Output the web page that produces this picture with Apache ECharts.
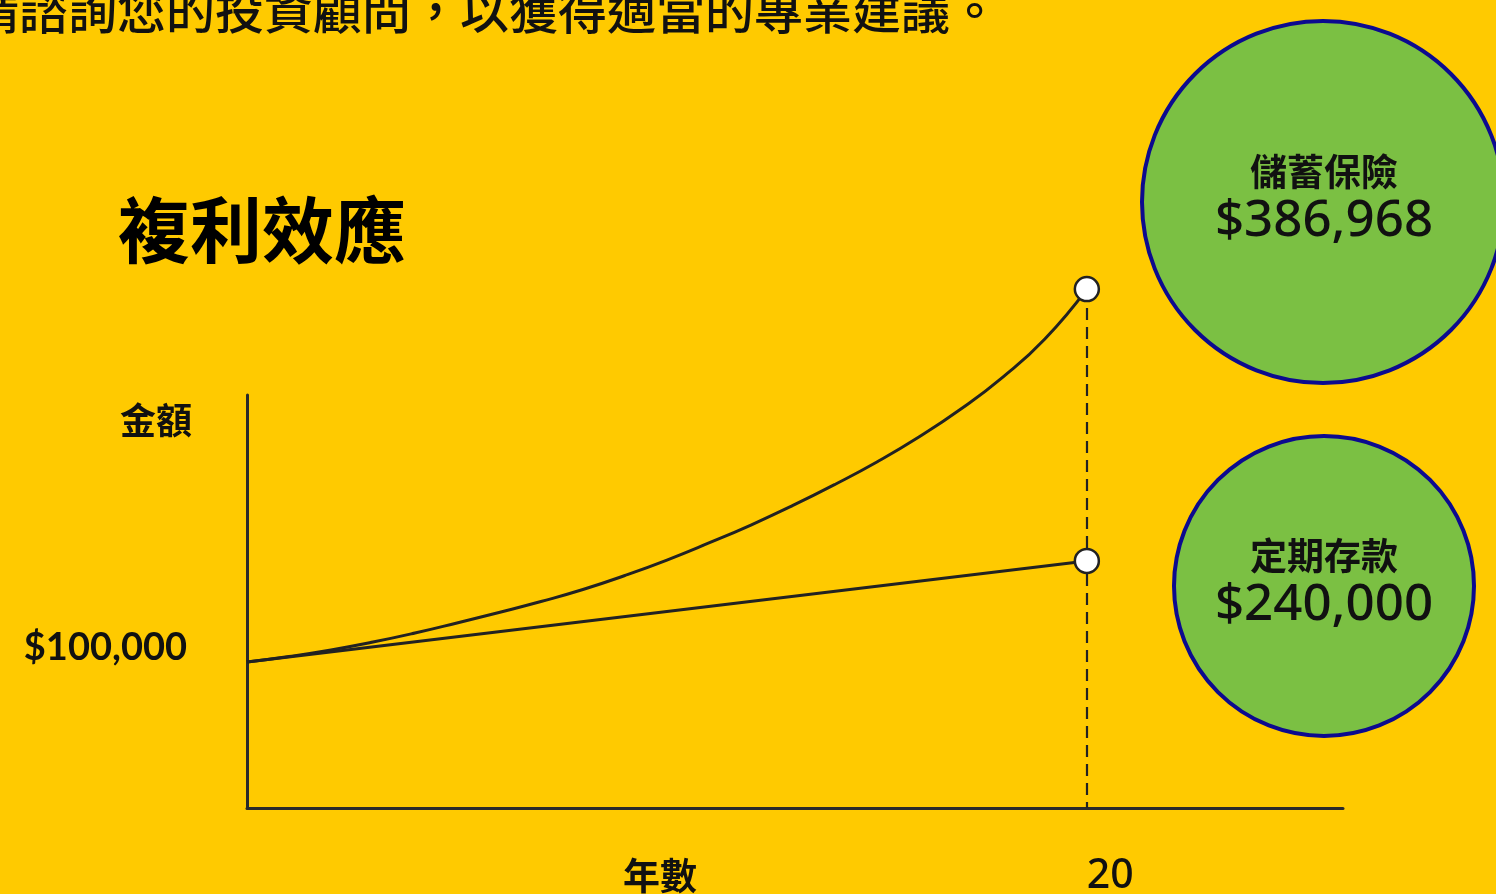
<!DOCTYPE html>
<html>
<head>
<meta charset="utf-8">
<script src="https://cdn.jsdelivr.net/npm/echarts@6/dist/echarts.min.js"></script>
<style>
  html, body { margin: 0; padding: 0; background: #ffca00; overflow: hidden; }
  #chart { width: 1496px; height: 894px; }
</style>
</head>
<body>
<div id="chart"></div>
<script>
// ---- data (schematic heights as drawn, in $ thousands on the drawn scale) ----
const years = [0,1,2,3,4,5,6,7,8,9,10,11,12,13,14,15,16,17,18,19,20];
const insuranceDrawn = [100.0,103.8,108.3,113.7,119.9,126.8,134.0,141.5,149.7,159.3,169.9,181.6,193.9,207.3,221.7,237.1,254.2,273.4,295.3,321.4,355.6];
const depositYears = [0, 20];
const depositDrawn = [100.0, 169.3];
const yTickValue = 100;
const yTickLabel = '$100,000';
const xTickValue = 20;
const xTickLabel = '20';
const seriesNames = ['儲蓄保險', '定期存款'];
const seriesFinalLabels = ['$386,968', '$240,000'];
const titleText = '複利效應';
const topNote = '請諮詢您的投資顧問，以獲得適當的專業建議。';
const yAxisName = '金額';
const xAxisName = '年數';

const chart = echarts.init(document.getElementById('chart'), null, { renderer: 'canvas' });

function withEndSymbol(xs, ys) {
  return xs.map((x, i) => {
    const item = { value: [x, ys[i]] };
    if (i === xs.length - 1) {
      item.symbol = 'circle';
      item.symbolSize = 24;
    }
    return item;
  });
}

const ink = '#222222';
const axisInk = '#2a2a2a';
const green = '#7bc043';
const navy = '#0c0a8f';

// drawn scale: 283 units span the visible y-axis (395..808 px); data grid extends higher to 380
const PX_PER_UNIT = 413 / 283;
const dataMax = 380;
const dataTop = 395 - (dataMax - 283) * PX_PER_UNIT;

const option = {
  backgroundColor: '#ffca00',
  animation: false,
  grid: [
    { left: 247, right: 153, top: dataTop, bottom: 86, outerBoundsMode: 'none', containLabel: false },
    { left: 247, right: 153, top: 395, bottom: 86, outerBoundsMode: 'none', containLabel: false }
  ],
  xAxis: [
    {
      gridIndex: 0, type: 'value', min: 0, max: 26.1, interval: 10,
      axisLine: { show: true, lineStyle: { color: axisInk, width: 3 } },
      axisTick: { show: false },
      splitLine: { show: false },
      axisLabel: {
        showMinLabel: false, showMaxLabel: false,
        formatter: v => v === xTickValue ? xTickLabel : '',
        align: 'left', verticalAlign: 'top', margin: 48,
        fontFamily: 'Noto Sans', fontSize: 41, fontWeight: 500, color: '#111'
      }
    },
    { gridIndex: 1, type: 'value', min: 0, max: 26.1, show: false }
  ],
  yAxis: [
    { gridIndex: 0, type: 'value', min: 0, max: dataMax, show: false },
    {
      gridIndex: 1, type: 'value', min: 0, max: 283, interval: 100,
      axisLine: { show: true, lineStyle: { color: axisInk, width: 3 } },
      axisTick: { show: false },
      splitLine: { show: false },
      axisLabel: {
        showMaxLabel: false,
        formatter: v => v === yTickValue ? yTickLabel : '',
        margin: 60, verticalAlign: 'bottom', lineHeight: 28,
        fontFamily: 'Lato', fontSize: 38, fontWeight: 'bold', color: '#111'
      }
    }
  ],
  series: [
    {
      name: seriesNames[0], type: 'line', xAxisIndex: 0, yAxisIndex: 0,
      smooth: 0.5,
      symbol: 'none', showSymbol: true,
      data: withEndSymbol(years, insuranceDrawn),
      lineStyle: { color: ink, width: 3 },
      itemStyle: { color: '#ffffff', borderColor: ink, borderWidth: 2.5 },
      z: 3,
      markLine: {
        silent: true, symbol: 'none', animation: false, z: 1,
        label: { show: false },
        lineStyle: { color: ink, width: 2.2, type: [12, 7] },
        data: [[{ coord: [years[years.length - 1], insuranceDrawn[insuranceDrawn.length - 1]] },
                { coord: [years[years.length - 1], 0] }]]
      }
    },
    {
      name: seriesNames[1], type: 'line', xAxisIndex: 0, yAxisIndex: 0,
      symbol: 'none', showSymbol: true,
      data: withEndSymbol(depositYears, depositDrawn),
      lineStyle: { color: ink, width: 3 },
      itemStyle: { color: '#ffffff', borderColor: ink, borderWidth: 2.5 },
      z: 4
    }
  ],
  graphic: [
    { type: 'text', left: -30, top: -14, style: { text: topNote, fontFamily: 'Noto Sans CJK TC', fontSize: 49, fontWeight: 500, fill: '#111' } },
    { type: 'text', x: 118, y: 230, style: { text: titleText, fontFamily: 'Noto Sans CJK TC', fontSize: 72, fontWeight: 'bold', fill: '#000', verticalAlign: 'middle' } },
    { type: 'text', x: 156, y: 420, style: { text: yAxisName, fontFamily: 'Noto Sans CJK TC', fontSize: 36, fontWeight: 'bold', fill: '#111', align: 'center', verticalAlign: 'middle' } },
    { type: 'text', x: 660, y: 876, style: { text: xAxisName, fontFamily: 'Noto Sans CJK TC', fontSize: 37, fontWeight: 'bold', fill: '#111', align: 'center', verticalAlign: 'middle' } },
    { type: 'circle', shape: { cx: 1323, cy: 202, r: 181 }, style: { fill: green, stroke: navy, lineWidth: 4 } },
    { type: 'text', x: 1324, y: 172, style: { text: seriesNames[0], fontFamily: 'Noto Sans CJK TC', fontSize: 37, fontWeight: 'bold', fill: '#111', align: 'center', verticalAlign: 'middle' } },
    { type: 'text', x: 1324, y: 221, style: { text: seriesFinalLabels[0], fontFamily: 'Noto Sans', fontSize: 51, fontWeight: 500, fill: '#111', align: 'center', verticalAlign: 'middle' } },
    { type: 'circle', shape: { cx: 1324, cy: 586, r: 150 }, style: { fill: green, stroke: navy, lineWidth: 4 } },
    { type: 'text', x: 1324, y: 556, style: { text: seriesNames[1], fontFamily: 'Noto Sans CJK TC', fontSize: 37, fontWeight: 'bold', fill: '#111', align: 'center', verticalAlign: 'middle' } },
    { type: 'text', x: 1324, y: 605, style: { text: seriesFinalLabels[1], fontFamily: 'Noto Sans', fontSize: 51, fontWeight: 500, fill: '#111', align: 'center', verticalAlign: 'middle' } }
  ]
};
chart.setOption(option);
</script>
</body>
</html>
